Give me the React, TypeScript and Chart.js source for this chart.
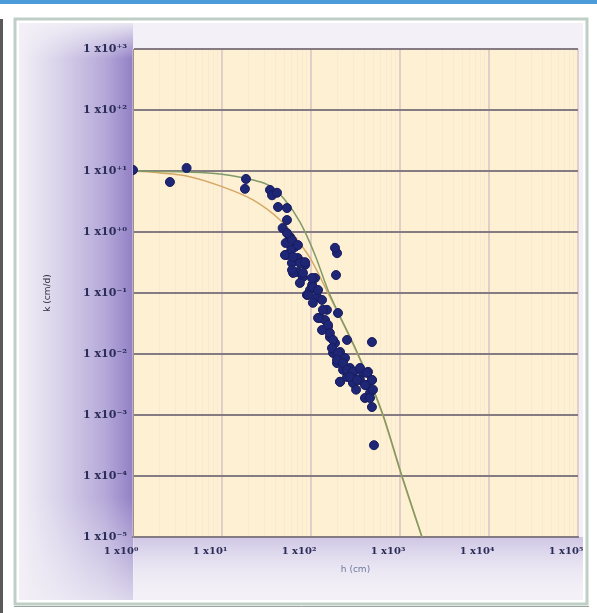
import React, { useEffect, useRef } from "react";
import { Chart, registerables } from "chart.js";

Chart.register(...registerables);

// ---- data ----
const pointH: number[] = [
  1, 2.6, 4.0, 18.6, 18.1, 34.6, 36.5, 41.5, 42.6, 53.7, 53.7, 58, 66, 53.7, 61, 71, 71, 86,
  196, 186, 191, 111, 63, 81, 103, 90, 117, 105, 151, 201, 126, 155, 163, 186, 254, 212, 177,
  196, 229, 296, 384, 484, 212, 296, 460, 484, 484, 254, 355, 510, 48, 52, 75, 133, 241, 415,
  321, 404, 60, 79, 97.5, 144, 274, 437,
  53.7, 61.2, 71.4, 51, 62.8, 75.2, 85.7, 61.2, 81.3, 102.6, 105, 120, 92.5, 133, 136, 120,
  155, 163, 177, 172, 201, 196, 229, 254, 296, 355, 426, 484, 274, 212, 329, 404, 497, 460,
];
const pointK: number[] = [
  10.4, 6.6, 11.2, 7.4, 5.1, 4.9, 4.0, 4.4, 2.57, 2.47, 1.57, 0.83, 0.57, 0.42, 0.31, 0.375,
  0.22, 0.29, 0.45, 0.55, 0.197, 0.176, 0.213, 0.183, 0.135, 0.093, 0.086, 0.069, 0.053, 0.047,
  0.039, 0.028, 0.019, 0.0151, 0.017, 0.0108, 0.0104, 0.0071, 0.0055, 0.0049, 0.0049, 0.00375,
  0.0035, 0.00335, 0.0023, 0.00135, 0.0157, 0.0042, 0.00375, 0.00032, 1.16, 0.66, 0.146,
  0.0247, 0.0086, 0.0031, 0.0026, 0.0019, 0.51, 0.32, 0.112, 0.036, 0.0059, 0.0051,
  0.96, 0.74, 0.61, 0.42, 0.39, 0.31, 0.32, 0.238, 0.213, 0.176, 0.125, 0.112, 0.093, 0.077,
  0.053, 0.039, 0.030, 0.022, 0.017, 0.0125, 0.0104, 0.008, 0.0071, 0.0055, 0.0051, 0.0059,
  0.0049, 0.00375, 0.0042, 0.0035, 0.00375, 0.0031, 0.0026, 0.0019,
];

const fitAH: number[] = [1, 2.0, 4.0, 9.5, 22.3, 44.9, 66, 97.5, 155, 329, 628, 1052, 1766];
const fitAK: number[] = [10, 9.3, 8.3, 5.7, 3.35, 1.57, 0.83, 0.375, 0.1, 0.0104, 0.00108, 0.000096, 0.00001];

const fitBH: number[] = [1, 4.0, 9.5, 22.3, 34.6, 51, 75, 111, 155, 329, 628, 1052, 1766];
const fitBK: number[] = [10, 9.6, 8.9, 7.1, 5.7, 3.35, 1.46, 0.42, 0.112, 0.0108, 0.00112, 0.0001, 0.00001];

const xTickValues: number[] = [1, 10, 100, 1000, 10000, 100000];
const xTickLabels: string[] = ["1 x10⁰", "1 x10¹", "1 x10²", "1 x10³", "1 x10⁴", "1 x10⁵"];
const yTickValues: number[] = [1e-5, 1e-4, 1e-3, 1e-2, 1e-1, 1, 10, 100, 1000];
const yTickLabels: string[] = [
  "1 x10⁻⁵", "1 x10⁻⁴", "1 x10⁻³", "1 x10⁻²", "1 x10⁻¹", "1 x10⁺⁰", "1 x10⁺¹", "1 x10⁺²", "1 x10⁺³",
];
const xTitle = "h (cm)";
const yTitle = "k (cm/d)";

const isDecade = (v: number) => Math.abs(Math.log10(v) - Math.round(Math.log10(v))) < 1e-9;

const bgPlugin = {
  id: "bgPlugin",
  beforeDraw(chart: any) {
    const { ctx, chartArea: ca, width, height } = chart;
    ctx.save();
    ctx.fillStyle = "#ffffff";
    ctx.fillRect(0, 0, width, height);
    // top blue bar
    ctx.fillStyle = "#4a9bd8";
    ctx.fillRect(0, 0, width, 4);
    // left dark edge
    ctx.fillStyle = "#5a5a5a";
    ctx.fillRect(0, 19, 3, height - 19);
    // panel frame
    ctx.strokeStyle = "#bfcfc7";
    ctx.lineWidth = 3;
    ctx.strokeRect(15, 19, width - 25, height - 28);
    ctx.strokeStyle = "#9aa4a2";
    ctx.lineWidth = 1;
    ctx.beginPath();
    ctx.moveTo(14, height - 6.5);
    ctx.lineTo(width - 8, height - 6.5);
    ctx.stroke();
    // panel fill
    const px0 = 19, py0 = 23, pw = width - 33, ph = height - 36;
    ctx.fillStyle = "#f3f0f7";
    ctx.fillRect(px0, py0, pw, ph);
    // left purple gradient
    const g = ctx.createLinearGradient(px0, 0, ca.left, 0);
    g.addColorStop(0, "rgba(140,122,196,0.0)");
    g.addColorStop(0.35, "rgba(140,122,196,0.25)");
    g.addColorStop(0.75, "rgba(140,122,196,0.6)");
    g.addColorStop(1, "rgba(135,115,192,0.9)");
    ctx.fillStyle = g;
    ctx.fillRect(px0, py0, ca.left - px0, ph);
    // bottom lavender gradient
    const gb = ctx.createLinearGradient(0, ca.bottom, 0, py0 + ph);
    gb.addColorStop(0, "rgba(160,145,205,0.45)");
    gb.addColorStop(1, "rgba(243,240,247,0.0)");
    ctx.fillStyle = gb;
    ctx.fillRect(ca.left, ca.bottom, pw - (ca.left - px0), py0 + ph - ca.bottom);
    // soften top and bottom of the left strip
    const gt = ctx.createLinearGradient(0, py0, 0, ca.top + 10);
    gt.addColorStop(0, "rgba(243,240,247,0.9)");
    gt.addColorStop(1, "rgba(243,240,247,0)");
    ctx.fillStyle = gt;
    ctx.fillRect(px0, py0, ca.left - px0, ca.top + 10 - py0);
    const gbl = ctx.createLinearGradient(0, ca.bottom - 40, 0, py0 + ph);
    gbl.addColorStop(0, "rgba(243,240,247,0)");
    gbl.addColorStop(1, "rgba(243,240,247,0.75)");
    ctx.fillStyle = gbl;
    ctx.fillRect(px0, ca.bottom - 40, ca.left - px0 + 1, py0 + ph - ca.bottom + 40);
    // plot area
    ctx.fillStyle = "#fdf0d3";
    ctx.fillRect(ca.left, ca.top, ca.right - ca.left, ca.bottom - ca.top);
    ctx.restore();
  },
};

export default function App() {
  const ref = useRef<HTMLCanvasElement | null>(null);
  useEffect(() => {
    if (!ref.current) return;
    const pts = pointH.map((h, i) => ({ x: h, y: pointK[i] }));
    const fa = fitAH.map((h, i) => ({ x: h, y: fitAK[i] }));
    const fb = fitBH.map((h, i) => ({ x: h, y: fitBK[i] }));
    const chart = new Chart(ref.current, {
      type: "scatter",
      data: {
        datasets: [
          {
            label: "measured",
            data: pts,
            backgroundColor: "#1f2676",
            borderColor: "#171d5e",
            borderWidth: 1,
            pointRadius: 4.5,
          },
          {
            label: "fit 2",
            data: fb,
            showLine: true,
            borderColor: "#7f9a66",
            borderWidth: 1.5,
            pointRadius: 0,
            cubicInterpolationMode: "monotone",
          } as any,
          {
            label: "fit 1",
            data: fa,
            showLine: true,
            borderColor: "#d6a866",
            borderWidth: 1.5,
            pointRadius: 0,
            cubicInterpolationMode: "monotone",
          } as any,
        ],
      },
      options: {
        animation: false,
        responsive: false,
        devicePixelRatio: 1,
        layout: { padding: { left: 38, right: 19, top: 49, bottom: 30 } },
        plugins: { legend: { display: false }, tooltip: { enabled: false } },
        scales: {
          x: {
            type: "logarithmic",
            min: 1,
            max: 100000,
            afterBuildTicks: (scale: any) => {
              const t: any[] = [];
              for (let e = 0; e < xTickValues.length; e++) {
                const base = xTickValues[e];
                t.push({ value: base });
                if (e < xTickValues.length - 1) {
                  for (let d = 2; d <= 9; d++) t.push({ value: base * d });
                }
              }
              scale.ticks = t;
            },
            afterFit: (scale: any) => {
              scale.height = 46;
              scale.paddingLeft = 0;
              scale.paddingRight = 0;
            },
            ticks: {
              autoSkip: false,
              maxRotation: 0,
              minRotation: 0,
              padding: 8,
              labelOffset: -12,
              color: "#2b2d58",
              font: { family: "DejaVu Serif", size: 10, weight: "bold" },
              callback: (v: any) => {
                const val = Number(v);
                if (!isDecade(val)) return "";
                const i = xTickValues.findIndex((x) => Math.abs(x - val) / x < 1e-9);
                return i >= 0 ? xTickLabels[i] : "";
              },
            },
            grid: {
              drawTicks: false,
              color: (c: any) =>
                c.tick && isDecade(c.tick.value) ? "rgba(214,190,196,0.7)" : "rgba(240,222,205,0.4)",
              lineWidth: (c: any) => (c.tick && isDecade(c.tick.value) ? 2 : 1),
            },
            border: { display: true, color: "#857b83", width: 2 },
            title: {
              display: true,
              text: xTitle,
              color: "#6d7a9c",
              font: { family: "DejaVu Sans", size: 9 },
              padding: { top: 0, bottom: 8 },
            },
          },
          y: {
            type: "logarithmic",
            min: 1e-5,
            max: 1000,
            afterBuildTicks: (scale: any) => {
              scale.ticks = yTickValues.map((v) => ({ value: v }));
            },
            afterFit: (scale: any) => {
              scale.width = 95;
              scale.paddingTop = 0;
              scale.paddingBottom = 0;
            },
            ticks: {
              autoSkip: false,
              padding: 6,
              color: "#2b2d58",
              font: { family: "DejaVu Serif", size: 11, weight: "bold" },
              callback: (v: any) => {
                const val = Number(v);
                const i = yTickValues.findIndex((x) => Math.abs(x - val) / x < 1e-9);
                return i >= 0 ? yTickLabels[i] : "";
              },
            },
            grid: {
              drawTicks: false,
              color: "#857b83",
              lineWidth: 2,
            },
            border: { display: true, color: "#9a9098", width: 1 },
            title: {
              display: true,
              text: yTitle,
              color: "#2f2f3f",
              font: { family: "DejaVu Sans", size: 9 },
              padding: { top: 4, bottom: 0 },
            },
          },
        },
      },
      plugins: [bgPlugin],
    });
    return () => chart.destroy();
  }, []);
  return (
    <div style={{ position: "absolute", left: 0, top: 0, width: 597, height: 613 }}>
      <canvas ref={ref} width={597} height={613} style={{ display: "block", width: 597, height: 613 }} />
    </div>
  );
}
